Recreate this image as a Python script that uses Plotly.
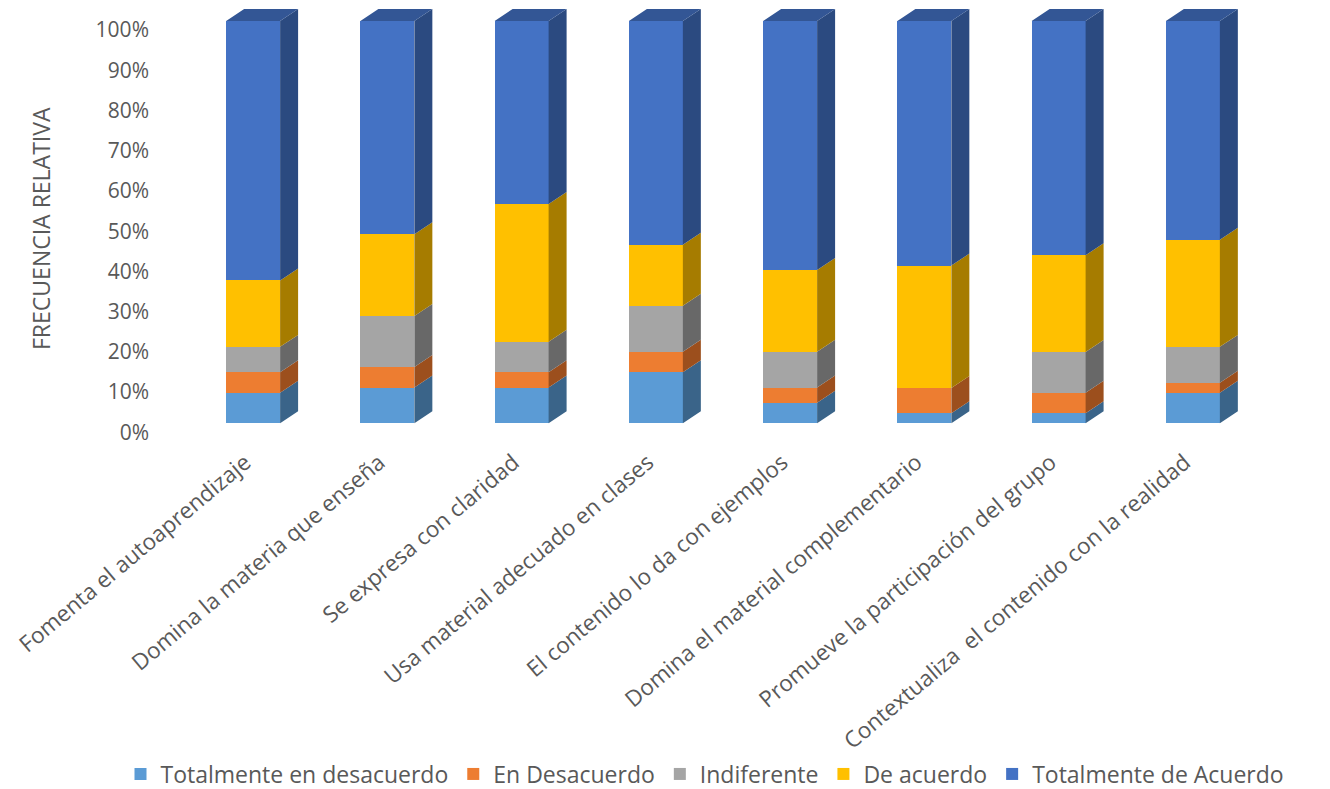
import plotly.graph_objects as go

categories = [
    "Fomenta el autoaprendizaje",
    "Domina la materia que enseña",
    "Se expresa con claridad",
    "Usa material adecuado en clases",
    "El contenido lo da con ejemplos",
    "Domina el material complementario",
    "Promueve la participación del grupo",
    "Contextualiza\u00a0 el contenido con la realidad",
]
series_names = ["Totalmente en desacuerdo", "En Desacuerdo", "Indiferente",
                "De acuerdo", "Totalmente de Acuerdo"]
tot_des = [7.6, 8.9, 8.9, 12.7, 5.1, 2.5, 2.5, 7.6]
en_des = [5.1, 5.1, 3.8, 5.1, 3.8, 6.3, 5.1, 2.5]
indif = [6.3, 12.7, 7.6, 11.4, 8.9, 0.0, 10.1, 8.9]
de_ac = [16.5, 20.3, 34.2, 15.2, 20.3, 30.4, 24.1, 26.6]
tot_ac = [64.5, 53.0, 45.5, 55.6, 61.9, 60.8, 58.2, 54.4]
series_values = [tot_des, en_des, indif, de_ac, tot_ac]
y_ticks = [0, 10, 20, 30, 40, 50, 60, 70, 80, 90, 100]
y_ticktext = [f"{v}%" for v in y_ticks]

front_colors = ["#5B9BD5", "#ED7D31", "#A5A5A5", "#FFC000", "#4472C4"]
side_colors = ["#3A6489", "#9C4F1D", "#686868", "#A67C00", "#2B4A80"]
top_color = "#335695"

W = 0.402   # bar width (category units)
DX = 0.134  # depth offset in x
DY = 2.98   # depth offset in y (percent units)

pos = list(range(len(categories)))
fig = go.Figure()

for name, vals, col in zip(series_names, series_values, front_colors):
    fig.add_trace(go.Bar(x=pos, y=vals, name=name, width=W,
                         marker=dict(color=col, line=dict(width=0))))

# side faces
base = [0.0] * len(pos)
for vals, scol in zip(series_values, side_colors):
    xs, ys = [], []
    for i, p in enumerate(pos):
        y0 = base[i]
        y1 = base[i] + vals[i]
        if vals[i] > 0:
            xr = p + W / 2
            xs += [xr, xr + DX, xr + DX, xr, xr, None]
            ys += [y0, y0 + DY, y1 + DY, y1, y0, None]
        base[i] = y1
    fig.add_trace(go.Scatter(x=xs, y=ys, mode="lines", fill="toself",
                             fillcolor=scol, line=dict(width=0, color=scol),
                             showlegend=False, hoverinfo="skip"))

# top faces
xs, ys = [], []
for i, p in enumerate(pos):
    top = base[i]
    xl, xr = p - W / 2, p + W / 2
    xs += [xl, xl + DX, xr + DX, xr, xl, None]
    ys += [top, top + DY, top + DY, top, top, None]
fig.add_trace(go.Scatter(x=xs, y=ys, mode="lines", fill="toself",
                         fillcolor=top_color, line=dict(width=0, color=top_color),
                         showlegend=False, hoverinfo="skip"))

grey = "#595959"
PW = 1330
PH = 440

fig.update_layout(
    width=1330, height=789,
    margin=dict(l=0, r=0, t=0, b=349, autoexpand=False),
    paper_bgcolor="white", plot_bgcolor="white",
    barmode="stack", bargap=0,
    showlegend=True,
    legend=dict(orientation="h", x=705 / PW, xanchor="center", y=1 - 774 / PH,
                yanchor="middle", traceorder="normal", itemwidth=30,
                font=dict(family="Open Sans", size=23, color=grey)),
    xaxis=dict(domain=[186 / PW, 1260 / PW], range=[-0.5, 7.5],
               tickvals=pos, ticktext=categories,
               tickangle=-40, showgrid=False, zeroline=False, showline=False,
               ticks="", tickfont=dict(family="Open Sans", size=22.5, color=grey),
               ticklabelshift=-8, ticklabelstandoff=4),
    yaxis=dict(range=[-4.15, 105.22], tickvals=y_ticks, ticktext=y_ticktext,
               showgrid=False, zeroline=False, showline=False, ticks="",
               tickfont=dict(family="Open Sans", size=21, color=grey),
               ticklabelshift=9, ticklabelstandoff=36),
    annotations=[dict(text="FRECUENCIA RELATIVA", textangle=-90,
                      xref="paper", yref="paper", x=41 / PW, y=1 - 229 / PH,
                      xanchor="center", yanchor="middle", showarrow=False,
                      font=dict(family="Open Sans", size=23, color=grey))],
)

fig.write_html("out.html")
